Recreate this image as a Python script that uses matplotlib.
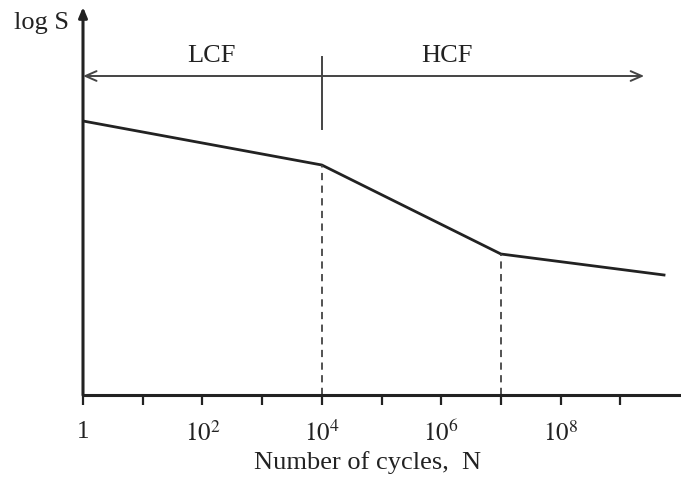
import matplotlib
matplotlib.use("Agg")
import matplotlib.pyplot as plt
import numpy as np

# ---- data ----
cycles = [1, 1e4, 1e7, 5.4e9]
log_s = [274, 230, 141, 120]
knees = [1e4, 1e7]
tick_exps = list(range(0, 10))
label_exps = [0, 2, 4, 6, 8]
regions = ["LCF", "HCF"]
region_x = [10**2.15, 10**6.1]
boundary = 1e4
arrow_right_end = 10**9.4
arrow_y = 319

plt.rcParams['font.family'] = ['Liberation Serif', 'DejaVu Serif']
plt.rcParams['mathtext.fontset'] = 'stix'

W, H = 681, 481
fig = plt.figure(figsize=(W/100, H/100), dpi=100)
ax = fig.add_axes([83/W, (H-396)/H, (680-83)/W, (396-8)/H])

col = '#222222'
ax.plot(cycles, log_s, color=col, lw=2.0, solid_joinstyle='miter')
for k, s in zip(knees, [log_s[1], log_s[2]]):
    ax.plot([k, k], [0, s], color='#444444', lw=1.3, ls=(0, (4, 3)))

ax.set_xscale('log')
ax.set_xlim(1, 1e10)
ax.set_ylim(0, 388)

for sp in ['top', 'right', 'left']:
    ax.spines[sp].set_visible(False)
ax.spines['bottom'].set_linewidth(2.2)
ax.spines['bottom'].set_color(col)

ax.set_xticks([10.0**e for e in tick_exps])
ax.set_xticklabels(['1' if e == 0 else (r'$10^{%d}$' % e if e in label_exps else '') for e in tick_exps])
ax.xaxis.set_minor_locator(matplotlib.ticker.NullLocator())
ax.tick_params(axis='x', direction='out', length=7, width=1.6, color=col,
               labelsize=18, pad=11, labelcolor='#222222')
ax.set_yticks([])

# y axis with arrow
ax.annotate('', xy=(0, 1.0), xytext=(0, 0), xycoords='axes fraction',
            arrowprops=dict(arrowstyle='-|>,head_length=0.6,head_width=0.25',
                            color=col, lw=2.2, shrinkA=0, shrinkB=0),
            annotation_clip=False)

# LCF / HCF arrows
acol = '#444444'
ax.annotate('', xy=(1, arrow_y), xytext=(boundary, arrow_y),
            arrowprops=dict(arrowstyle='->,head_length=0.8,head_width=0.35',
                            color=acol, lw=1.4, shrinkA=0, shrinkB=0),
            annotation_clip=False)
ax.annotate('', xy=(arrow_right_end, arrow_y), xytext=(boundary, arrow_y),
            arrowprops=dict(arrowstyle='->,head_length=0.8,head_width=0.35',
                            color=acol, lw=1.4, shrinkA=0, shrinkB=0),
            annotation_clip=False)
ax.plot([boundary, boundary], [266, 338], color=acol, lw=1.4, clip_on=False)

for name, xx in zip(regions, region_x):
    ax.text(xx, 340, name, ha='center', va='center', fontsize=19, color='#222222')

fig.text(14/W, 1 - 23/H, 'log S', ha='left', va='center', fontsize=19, color='#222222')
fig.text(368/W, 1 - 463/H, 'Number of cycles,  N', ha='center', va='center',
         fontsize=19, color='#222222')

fig.savefig('out.png', dpi=100)
